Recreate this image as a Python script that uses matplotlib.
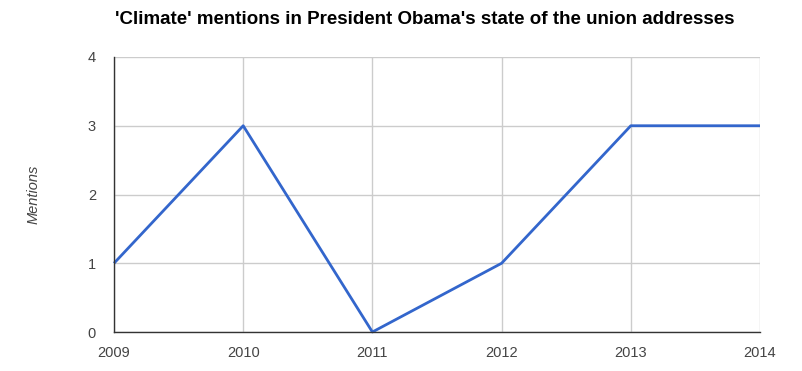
import matplotlib
matplotlib.use("Agg")
import matplotlib.pyplot as plt

years = [2009, 2010, 2011, 2012, 2013, 2014]
mentions = [1, 3, 0, 1, 3, 3]
yticks = [0, 1, 2, 3, 4]

plt.rcParams['font.family'] = ['Liberation Sans', 'DejaVu Sans']

fig = plt.figure(figsize=(8.03, 3.71), dpi=100)
ax = fig.add_axes([114/803, 1-332/371, (760-114)/803, (332-57)/371])

ax.plot(years, mentions, color='#3366cc', linewidth=2, solid_capstyle='butt', zorder=3, clip_on=False)
ax.set_xlim(2009, 2014)
ax.set_ylim(0, 4)
ax.set_xticks(years)
ax.set_yticks(yticks)
ax.grid(True, color='#cccccc', linewidth=1)
ax.set_axisbelow(True)
for s in ['top', 'right']:
    ax.spines[s].set_visible(False)
for s in ['left', 'bottom']:
    ax.spines[s].set_color('#333333')
    ax.spines[s].set_linewidth(1)
    ax.spines[s].set_zorder(4)
ax.tick_params(length=0, labelsize=10.5, colors='#444444')
ax.tick_params(axis='x', pad=10)
ax.tick_params(axis='y', pad=13)
ax.set_ylabel('Mentions', fontstyle='italic', fontsize=10.5, color='#444444', labelpad=34)
fig.text(425/803, 1-20/371, "'Climate' mentions in President Obama's state of the union addresses",
         ha='center', va='center', fontsize=13.5, fontweight='bold', color='#000000')

fig.savefig('out.png', dpi=100)
